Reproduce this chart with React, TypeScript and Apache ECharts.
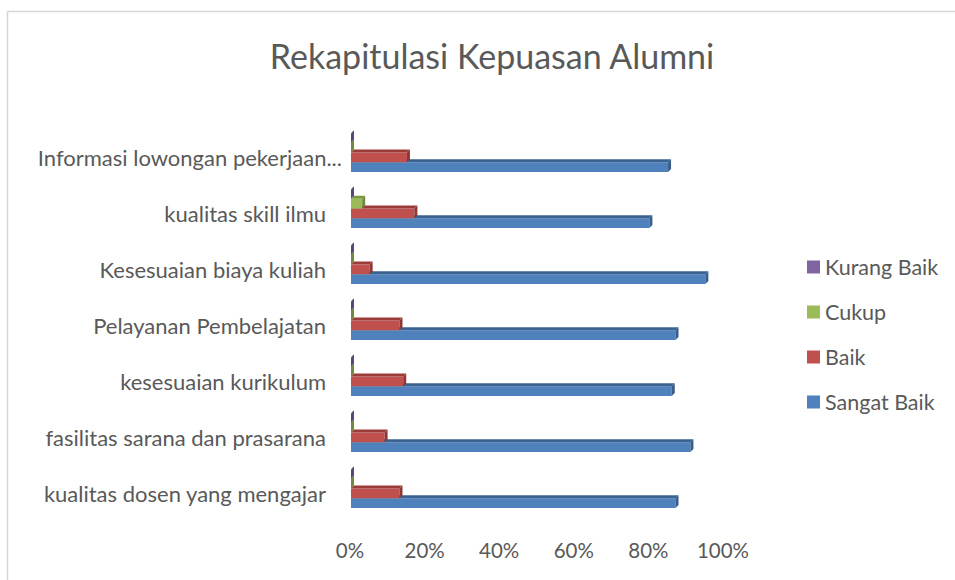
import React, { useEffect, useRef } from "react";
import * as echarts from "echarts";

const categories = [
  "kualitas dosen yang mengajar",
  "fasilitas sarana dan prasarana",
  "kesesuaian kurikulum",
  "Pelayanan Pembelajatan",
  "Kesesuaian biaya kuliah",
  "kualitas skill ilmu",
  "Informasi lowongan pekerjaan...",
];
const sangatBaik = [87, 91, 86, 87, 95, 80, 85];
const baik = [13, 9, 14, 13, 5, 17, 15];
const cukup = [0, 0, 0, 0, 0, 3, 0];
const kurangBaik = [0, 0, 0, 0, 0, 0, 0];
const xTicks = [0, 20, 40, 60, 80, 100];
const legendOrder = ["Kurang Baik", "Cukup", "Baik", "Sangat Baik"];

const FONT = "Lato";
const TEXT = "#595959";

const seriesDefs = [
  { name: "Sangat Baik", data: sangatBaik, color: "#4f81bd", dark: "#3a6391", side: "#385d8a", k: 0 },
  { name: "Baik", data: baik, color: "#c0504d", dark: "#9b3b38", side: "#8c3836", k: 1 },
  { name: "Cukup", data: cukup, color: "#9bbb59", dark: "#7a9a3e", side: "#71893f", k: 2 },
  { name: "Kurang Baik", data: kurangBaik, color: "#8064a2", dark: "#614a80", side: "#5c4776", k: 3 },
];

function makeRender(def: any) {
  return (params: any, api: any) => {
    const cat = api.value(1);
    const v = api.value(0);
    const p0 = api.coord([0, cat]);
    const p1 = api.coord([v, cat]);
    const band = api.size([0, 1])[1];
    const h = band * 0.173;
    const center = p0[1] + band * 0.18 - def.k * h;
    const yT = center - h / 2;
    const yB = center + h / 2;
    const x0 = p0[0] + 1;
    const x1 = Math.max(p1[0] + 1, x0);
    const d = 3;
    return {
      type: "group",
      children: [
        {
          type: "rect",
          shape: { x: x0, y: yT, width: x1 - x0, height: h },
          style: { fill: def.color },
        },
        {
          type: "polygon",
          shape: { points: [[x0, yT], [x0 + d, yT - d], [x1 + d, yT - d], [x1, yT]] },
          style: { fill: def.dark },
        },
        {
          type: "polygon",
          shape: { points: [[x1, yT], [x1 + d, yT - d], [x1 + d, yB - d], [x1, yB]] },
          style: { fill: def.side },
        },
      ],
    };
  };
}

export default function App() {
  const ref = useRef<HTMLDivElement>(null);
  useEffect(() => {
    if (!ref.current) return;
    const chart = echarts.init(ref.current, undefined, { renderer: "svg" });
    const option: any = {
      animation: false,
      backgroundColor: "#ffffff",
      title: {
        text: "Rekapitulasi Kepuasan Alumni",
        left: 487,
        textAlign: "center",
        top: 33,
        textStyle: { fontFamily: FONT, fontSize: 34, fontWeight: "normal", color: TEXT },
      },
      legend: {
        orient: "vertical",
        left: 802,
        top: 251,
        itemWidth: 13,
        itemHeight: 13,
        itemGap: 23,
        icon: "rect",
        data: legendOrder,
        textStyle: { fontFamily: FONT, fontSize: 21.5, color: TEXT, lineHeight: 22 },
      },
      grid: { left: 350, right: 232, top: 129, bottom: 59, containLabel: false },
      xAxis: {
        type: "value",
        min: xTicks[0],
        max: xTicks[xTicks.length - 1],
        interval: 20,
        axisLine: { show: false },
        axisTick: { show: false },
        splitLine: { show: false },
        axisLabel: {
          formatter: "{value}%",
          fontFamily: FONT,
          fontSize: 20.5,
          color: TEXT,
          margin: 18,
        },
      },
      yAxis: {
        type: "category",
        data: categories,
        axisLine: { show: false },
        axisTick: { show: false },
        splitLine: { show: false },
        axisLabel: {
          margin: 8,
          formatter: (val: string) =>
            val.endsWith("...") ? `{b|${val}}` : `{a|${val}}`,
          rich: {
            a: { fontFamily: FONT, fontSize: 22, color: TEXT, padding: [0, 16, 0, 0] },
            b: { fontFamily: FONT, fontSize: 22, color: TEXT },
          },
        },
      },
      graphic: [
        {
          type: "line",
          shape: { x1: 7.5, y1: 11.5, x2: 955, y2: 11.5 },
          style: { stroke: "#d6d6d6", lineWidth: 1.5 },
        },
        {
          type: "line",
          shape: { x1: 7.5, y1: 11.5, x2: 7.5, y2: 580 },
          style: { stroke: "#d6d6d6", lineWidth: 1.5 },
        },
      ],
      series: seriesDefs.map((def) => ({
        type: "custom",
        name: def.name,
        itemStyle: { color: def.color },
        encode: { x: 0, y: 1 },
        data: def.data.map((v, i) => [v, i]),
        renderItem: makeRender(def),
      })),
    };
    chart.setOption(option);
    return () => chart.dispose();
  }, []);
  return (
    <div
      ref={ref}
      style={{ position: "absolute", left: 0, top: 0, width: 955, height: 580 }}
    />
  );
}
